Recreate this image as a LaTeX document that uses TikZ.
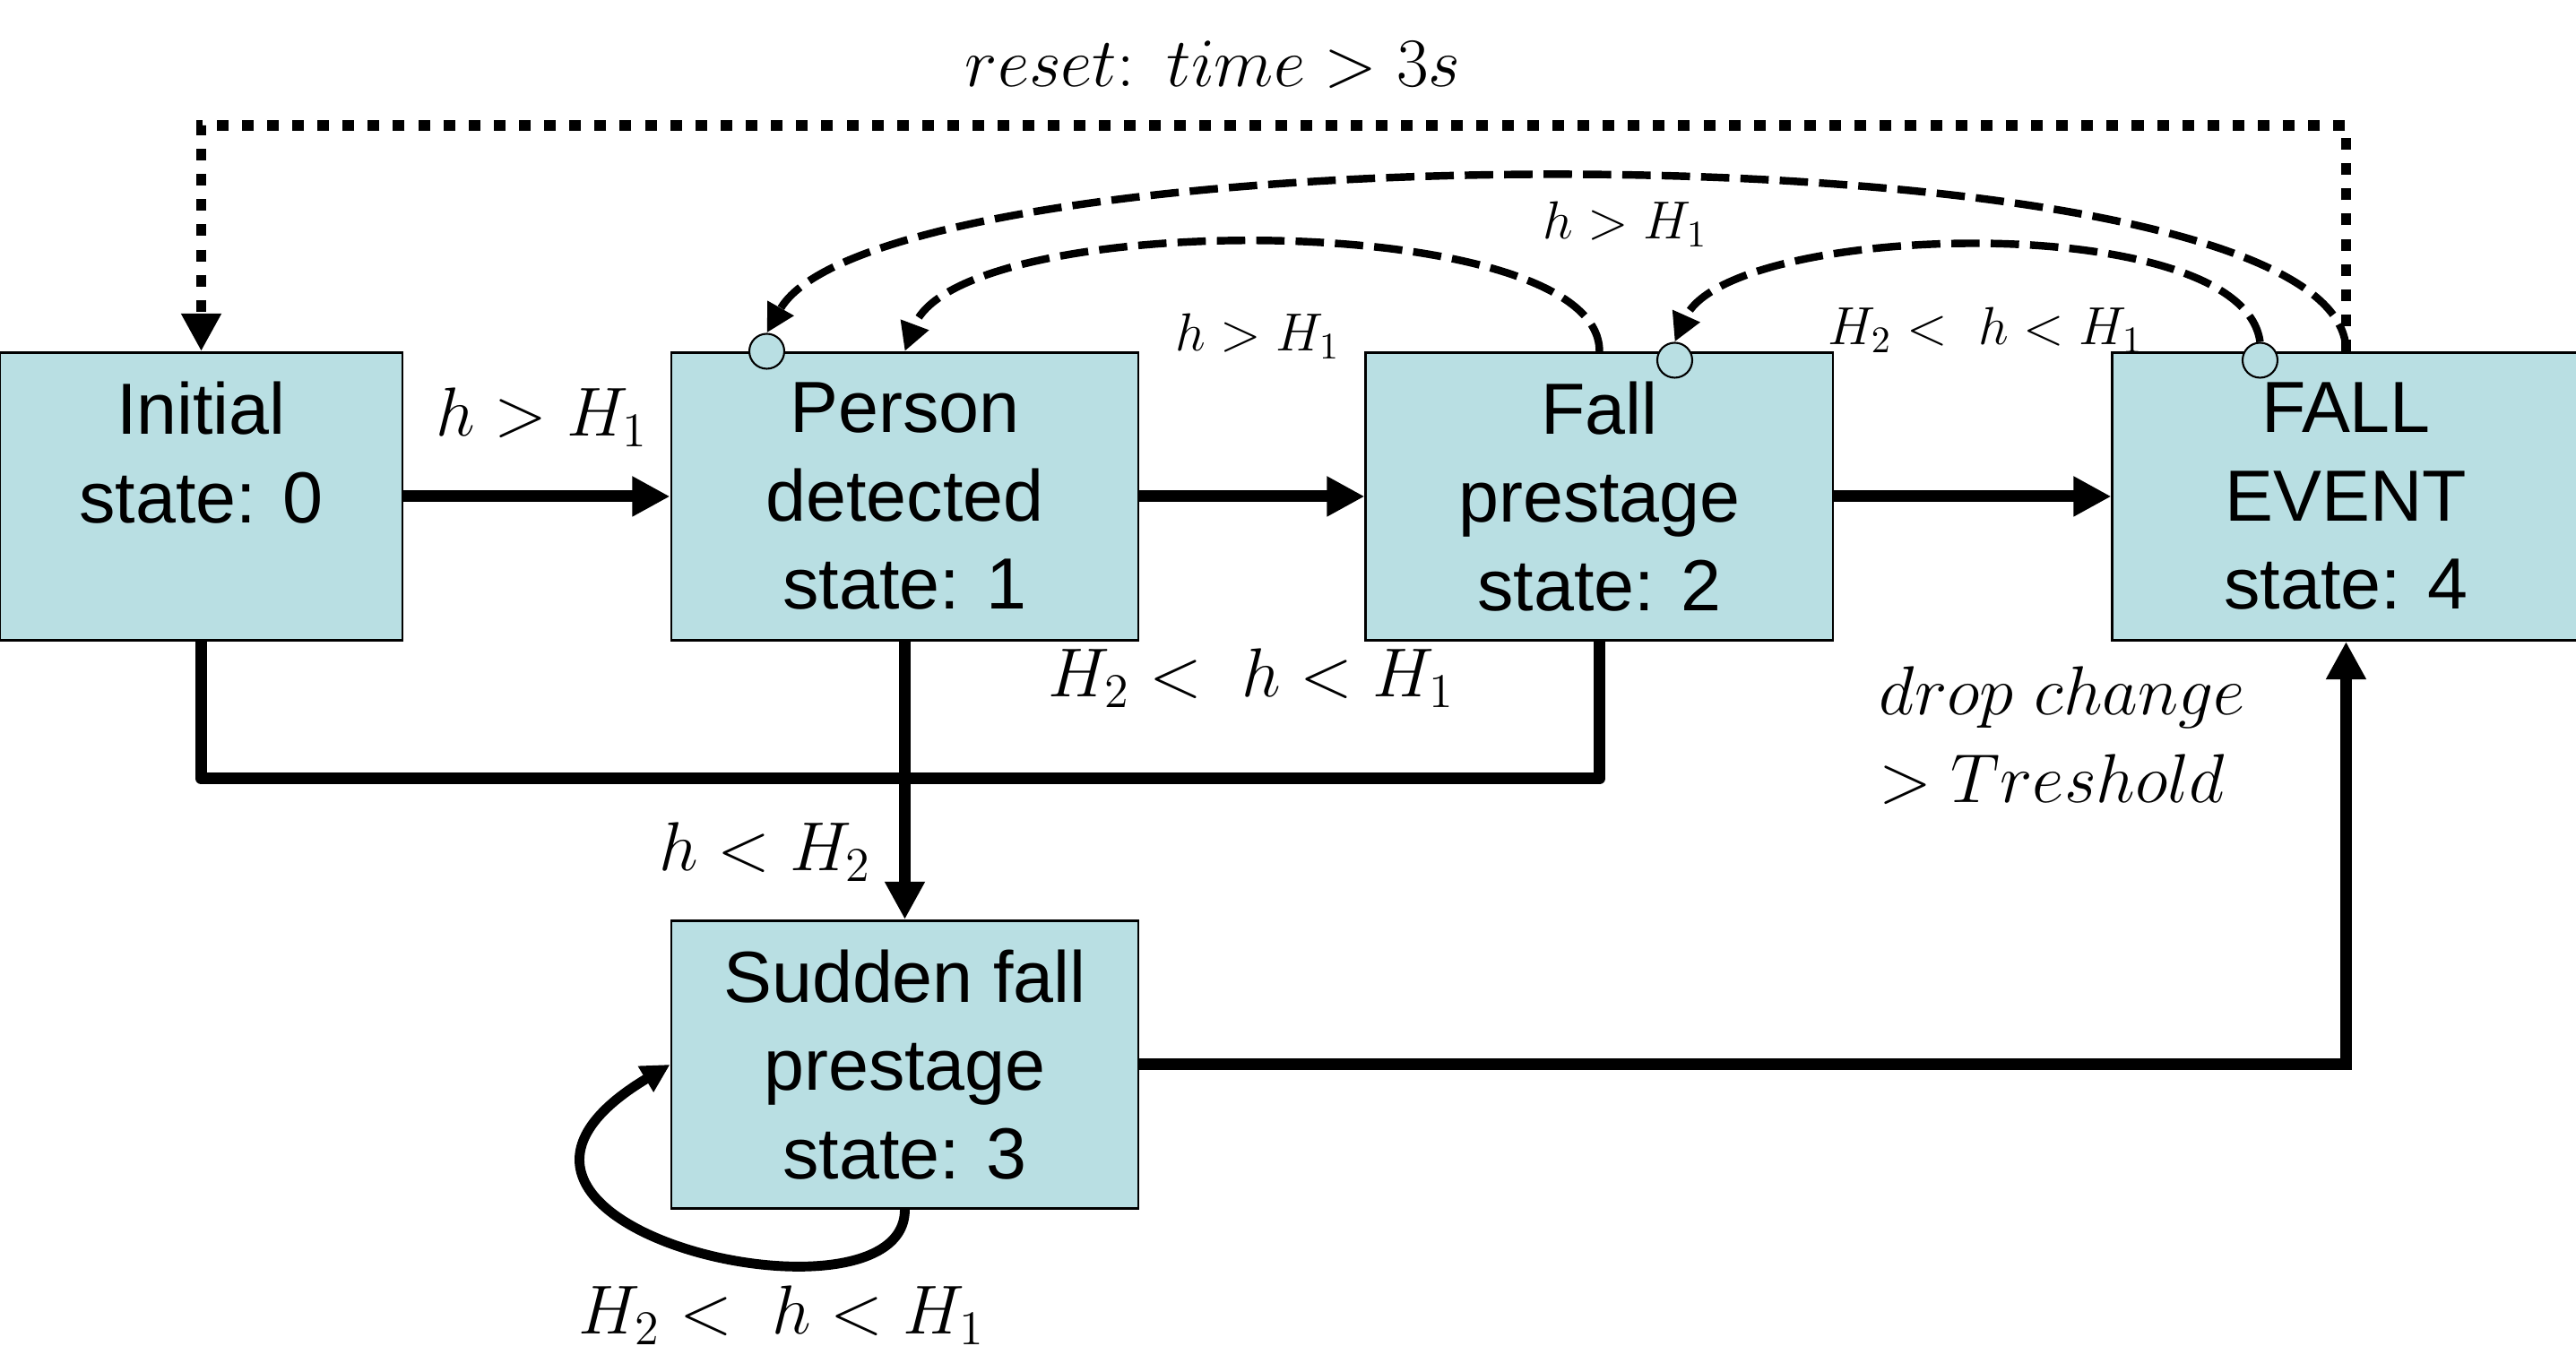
\RequirePackage{fix-cm}
\documentclass[tikz,border=0pt]{standalone}
\usepackage{fontspec}
\newfontfamily\arialfont{Liberation Sans}
\usepackage{tikz}
\usetikzlibrary{positioning}
\usetikzlibrary{arrows.meta}
\definecolor{boxfill}{RGB}{185,223,227}
\tikzset{stbox/.style={draw,line width=0.85pt,fill=boxfill,minimum width=5.21cm,minimum height=3.21cm,inner sep=1mm,align=center,font=\arialfont\fontsize{23}{28}\selectfont}}
\tikzset{port/.style={draw,circle,fill=boxfill,minimum size=0.39cm,inner sep=0pt,line width=0.6pt}}
\tikzset{flow/.style={line width=3.7pt,-{Triangle[length=12pt,width=12pt]}}}
\tikzset{bus/.style={line width=3.7pt,line join=round}}
\tikzset{back/.style={line width=2.4pt,dash pattern=on 9pt off 3.5pt,-{Triangle[length=9pt,width=9pt]}}}
\tikzset{resetline/.style={line width=3.4pt,dash pattern=on 3.7pt off 4.3pt,-{Triangle[length=12pt,width=12pt]}}}
\tikzset{selfloop/.style={line width=3.1pt,-{Triangle[length=9pt,width=9pt]}}}
\tikzset{lbl/.style={anchor=base,font=\fontsize{22}{28}\selectfont}}
\tikzset{slbl/.style={anchor=base,font=\fontsize{17}{20}\selectfont}}

\begin{document}
\begin{tikzpicture}
\useasboundingbox (0,0) rectangle (28.74,15.31);
\node[stbox,minimum width=4.49cm] (s0) at (2.245,9.77) {Initial\\state: 0\\\mbox{}};
\node[stbox,right=2.97cm of s0] (s1) {Person\\detected\\state: 1};
\node[stbox,right=2.51cm of s1] (s2) {Fall\\prestage\\state: 2};
\node[stbox,right=3.09cm of s2] (s4) {FALL\\EVENT\\state: 4};
\node[stbox,below=3.10cm of s1] (s3) {Sudden fall\\prestage\\state: 3};

\node[port] (c1) at ([xshift=1.08cm]s1.north west) {};
\node[port] (c2) at ([xshift=3.46cm,yshift=-0.1cm]s2.north west) {};
\node[port] (c4) at ([xshift=1.66cm,yshift=-0.1cm]s4.north west) {};

\draw[flow] (s0) -- (s1);
\draw[flow] (s1) -- (s2);
\draw[flow] (s2) -- (s4);
\draw[bus] (s0.south) -- ++(0,-1.53) -| (s2.south);
\draw[flow] (s1) -- (s3);
\draw[flow] (s3) -| (s4);
\draw[selfloop] (s3.south) .. controls +(0,-1.45) and +(-3.0,-1.8) .. (s3.west);
\draw[resetline] (s4.north) -- ++(0,2.52) -| (s0.north);
\draw[back] (s4.north) .. controls +(0,2.6) and +(1.3,2.3) .. (c1.north);
\draw[back] (s2.north) .. controls +(0,1.6) and +(0.6,1.6) .. (s1.north);
\draw[back] (c4.north) .. controls +(-0.2,1.5) and +(0.6,1.34) .. (c2.north);

\node[lbl] (l01) at (6.05,10.44) {$h > H_1$};
\node[slbl] (l21) at (14.03,11.39) {$h > H_1$};
\node[slbl] (l41) at (18.13,12.64) {$h > H_1$};
\node[slbl] (l42) at (22.15,11.46) {$H_2 <\ h < H_1$};
\node[lbl] (l12) at (13.96,7.53) {$H_2 <\ h < H_1$};
\node[lbl] (l13) at (8.54,5.59) {$h < H_2$};
\node[lbl] (l33) at (8.72,0.42) {$H_2 <\ h < H_1$};
\node[lbl,anchor=north west,align=left,inner sep=0pt] (ldrop) at (20.96,7.88) {$drop\ change$\\$> Treshold$};
\node[lbl] (lreset) at (13.53,14.34) {$reset\colon\ time > 3s$};
\end{tikzpicture}
\end{document}
